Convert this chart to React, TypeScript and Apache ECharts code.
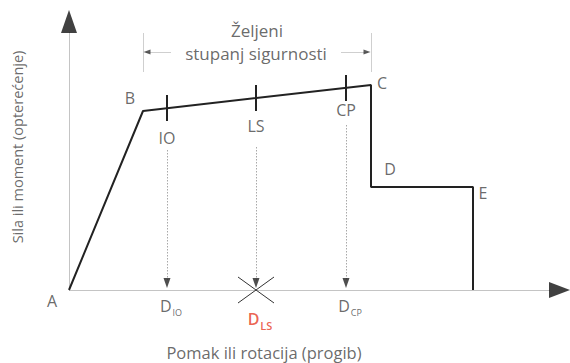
import React, { useEffect, useRef } from "react";
import * as echarts from "echarts";

// Pushover curve A-B-C-D-E (displacement units, force units)
const curveX = [0, 74, 302, 302, 404, 404];
const curveY = [0, 179, 205, 103, 103, 0];
const pointNames = ["A", "B", "C", "D", "E"];
// Performance levels on the B-C branch
const levelNames = ["IO", "LS", "CP"];
const levelX = [98, 187, 277];
const levelY = [182, 192, 202];
const dispLabels = ["IO", "LS", "CP"];
const xTitle = "Pomak ili rotacija (progib)";
const yTitle = "Sila ili moment (opterećenje)";
const bracketTitle = ["Željeni", "stupanj sigurnosti"];

const FONT = "Open Sans";
const TXT = "#444444";

export default function App() {
  const ref = useRef<HTMLDivElement>(null);
  useEffect(() => {
    if (!ref.current) return;
    const chart = echarts.init(ref.current, undefined, { renderer: "svg" });

    const curve = curveX.map((x, i) => [x, curveY[i]]);
    // label anchor offsets (layout only)
    const ptOffsets: Record<string, [number, number]> = {
      A: [-17, -11], B: [-13, 13], C: [11, 2], D: [19, 18], E: [10, -6],
    };
    const ptIdx: Record<string, number> = { A: 0, B: 1, C: 2, D: 3, E: 4 };
    const ptLabels = pointNames.map((n) => {
      const p = curve[ptIdx[n]];
      const o = ptOffsets[n];
      return { value: [p[0] + o[0], p[1] + o[1]], name: n };
    });

    const tickHalf = 13;
    const ticks = levelX.map((x, i) => ({
      coords: [[x, levelY[i] - tickHalf], [x, levelY[i] + tickHalf]],
    }));
    const levelLabelDy = [-30, -28, -22];
    const levelLabels = levelNames.map((n, i) => ({
      value: [levelX[i], levelY[i] + levelLabelDy[i]],
      name: n,
    }));
    const dashTops = [140, 143, 165];
    const dashed = levelX.map((x, i) => ({
      coords: [[x, dashTops[i]], [x, i === 1 ? 8 : 10]],
    }));
    const downArrows = levelX.map((x) => ({ value: [x, 7] }));
    const dispLbl = dispLabels.map((n, i) => ({
      value: [levelX[i] + 4, i === 1 ? -29 : -16],
      name: n,
      label: {
        formatter: i === 1 ? "{dr|D}{sr|" + n + "}" : "{d|D}{s|" + n + "}",
      },
    }));

    const bx0 = curveX[1];
    const bx1 = curveX[2];
    const bracketY = 238;

    chart.setOption({
      animation: false,
      grid: { left: 0, right: 0, top: 0, bottom: 0 },
      xAxis: { type: "value", min: -69, max: 501, show: false },
      yAxis: { type: "value", min: -73, max: 290, show: false },
      series: [
        // axes
        {
          type: "lines",
          coordinateSystem: "cartesian2d",
          silent: true,
          lineStyle: { color: "#c4c4c4", width: 1, opacity: 1 },
          data: [
            { coords: [[0, 0], [0, 258]] },
            { coords: [[0, 0], [481, 0]] },
          ],
        },
        {
          type: "scatter",
          silent: true,
          symbol: "triangle",
          itemStyle: { color: "#111" },
          data: [
            { value: [0, 268.5], symbolSize: [16, 23], symbolRotate: 0 },
            { value: [490.5, 0], symbolSize: [16, 21], symbolRotate: -90 },
          ],
        },
        // dashed guide lines
        {
          type: "lines",
          coordinateSystem: "cartesian2d",
          silent: true,
          lineStyle: { color: "#a8a8a8", width: 1, opacity: 1, type: [1.5, 1.5] },
          data: dashed,
        },
        {
          type: "scatter",
          silent: true,
          symbol: "triangle",
          symbolSize: [7, 10],
          symbolRotate: 180,
          itemStyle: { color: "#222" },
          data: downArrows,
          z: 4,
        },
        // bracket
        {
          type: "lines",
          coordinateSystem: "cartesian2d",
          silent: true,
          lineStyle: { color: "#cfcfcf", width: 1, opacity: 1 },
          data: [
            { coords: [[bx0, 218], [bx0, 257]] },
            { coords: [[bx1, 218], [bx1, 257]] },
            { coords: [[102, bracketY], [bx0 + 3, bracketY]] },
            { coords: [[272, bracketY], [bx1 - 3, bracketY]] },
          ],
        },
        {
          type: "scatter",
          silent: true,
          symbol: "triangle",
          symbolSize: [5, 7],
          itemStyle: { color: "#333" },
          data: [
            { value: [bx0 + 4, bracketY], symbolRotate: 90 },
            { value: [bx1 - 4, bracketY], symbolRotate: -90 },
          ],
        },
        // curve
        {
          type: "line",
          silent: true,
          data: curve,
          showSymbol: false,
          lineStyle: { color: "#222", width: 2 },
          z: 5,
        },
        // level ticks
        {
          type: "lines",
          coordinateSystem: "cartesian2d",
          silent: true,
          lineStyle: { color: "#222", width: 2, opacity: 1 },
          data: ticks,
          z: 5,
        },
        // cross at D_LS
        {
          type: "lines",
          coordinateSystem: "cartesian2d",
          silent: true,
          lineStyle: { color: "#333", width: 1, opacity: 1 },
          data: [
            { coords: [[levelX[1] - 18, 13], [levelX[1] + 18, -13]] },
            { coords: [[levelX[1] - 18, -13], [levelX[1] + 18, 13]] },
          ],
        },
        // text labels
        {
          type: "scatter",
          silent: true,
          symbolSize: 1,
          itemStyle: { color: "rgba(0,0,0,0)" },
          label: {
            show: true,
            position: "inside",
            formatter: "{b}",
            color: TXT,
            fontFamily: FONT,
            fontSize: 16,
          },
          data: [
            ...ptLabels,
            ...levelLabels,
            { value: [188, 260], name: bracketTitle[0], label: { fontSize: 17 } },
            { value: [187, 237], name: bracketTitle[1], label: { fontSize: 17 } },
            { value: [195, -62], name: xTitle, label: { fontSize: 16.5 } },
            { value: [-52, 143], name: yTitle, label: { rotate: 90, fontSize: 14.5 } },
          ],
        },
        {
          type: "scatter",
          silent: true,
          symbolSize: 1,
          itemStyle: { color: "rgba(0,0,0,0)" },
          label: {
            show: true,
            position: "inside",
            color: TXT,
            fontFamily: FONT,
            rich: {
              d: { fontSize: 16, color: TXT, fontFamily: FONT, lineHeight: 20 },
              s: { fontSize: 9, color: TXT, fontFamily: FONT, padding: [12, 0, 0, 1] },
              dr: { fontSize: 16, color: "#e63b26", fontFamily: FONT, lineHeight: 20, fontWeight: 600 },
              sr: { fontSize: 11, color: "#e63b26", fontFamily: FONT, padding: [12, 0, 0, 1], fontWeight: 600 },
            },
          },
          data: dispLbl,
        },
      ],
    });
    return () => chart.dispose();
  }, []);
  return (
    <div
      ref={ref}
      style={{ position: "absolute", left: 0, top: 0, width: 570, height: 363 }}
    />
  );
}
